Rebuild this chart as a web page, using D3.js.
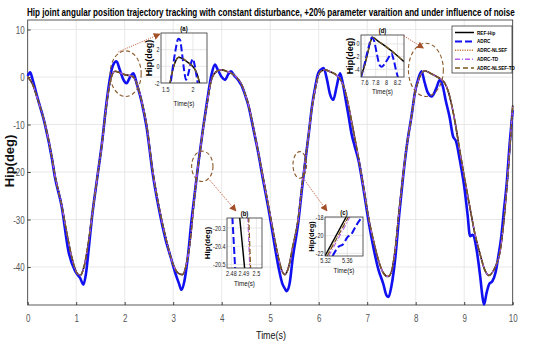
<!DOCTYPE html>
<html>
  <head>
    <meta charset="utf-8">
    <title>Hip joint trajectory tracking</title>
    <script src="https://d3js.org/d3.v7.min.js"></script>
    <style>
      body { margin: 0; background: #fff; }
      text { font-family: "Liberation Sans", Arial, sans-serif; }
      .grid line { stroke: #e2e2e2; stroke-width: 0.8; }
      .frame { fill: none; stroke: #333; stroke-width: 0.8; }
    </style>
  </head>
  <body>
    <script>
      // Hip angle (deg) against time (s)
      var hipTime = [0, 0.1, 0.2, 0.36, 0.5, 0.56, 0.7, 0.8, 0.91, 1,
        1.08, 1.16, 1.25, 1.32, 1.43, 1.53, 1.63, 1.7, 1.8, 1.9,
        2, 2.1, 2.18, 2.27, 2.35, 2.45, 2.58, 2.7, 2.85, 3,
        3.1, 3.19, 3.27, 3.35, 3.45, 3.53, 3.62, 3.7, 3.79, 3.9,
        4, 4.1, 4.2, 4.3, 4.41, 4.48, 4.55, 4.65, 4.75, 4.85,
        4.96, 5.07, 5.18, 5.25, 5.3, 5.38, 5.46, 5.58, 5.65, 5.72,
        5.8, 5.86, 5.93, 5.99, 6.06, 6.13, 6.24, 6.34, 6.47, 6.54,
        6.61, 6.7, 6.82, 6.93, 7.03, 7.13, 7.23, 7.33, 7.43, 7.5,
        7.58, 7.66, 7.74, 7.83, 7.92, 7.98, 8.05, 8.12, 8.19, 8.3,
        8.43, 8.52, 8.6, 8.67, 8.74, 8.82, 8.91, 9.01, 9.12, 9.22,
        9.33, 9.42, 9.51, 9.6, 9.68, 9.74, 9.8, 9.86, 9.91, 9.96,
        10];

      var refHip = [0, -1.5, -4.5, -10, -17, -20.6, -27, -32.5, -38, -41,
        -41.8, -40, -35, -29.7, -21.5, -14.2, -5.5, -1, 1.2, 0.9,
        0.5, 0.3, 0, -2, -5.1, -10, -20, -27, -34, -39.5,
        -41.3, -41.6, -39.5, -34.5, -24.1, -17.5, -10.7, -5.5, -0.5, 1.2,
        1.5, 1.2, 0.8, 0, -1.6, -3.5, -5.8, -10.5, -15.6, -21,
        -26.9, -33, -38.5, -41, -41.6, -40, -36, -29.7, -23.5, -17.8,
        -11.5, -6.5, -2.5, 0.3, 1.3, 1.5, 1.1, 0.6, -0.9, -2.8,
        -5.8, -10.5, -17, -23.5, -29.7, -34.5, -38.5, -41.2, -42, -41,
        -36, -28, -20.6, -13.5, -7.9, -3.5, -0.9, 0.8, 1.3, 0.8,
        0.1, -0.5, -1.3, -3, -5.8, -10, -15.6, -21.5, -27.6, -33,
        -37.4, -40.5, -41.8, -40.8, -39, -36.7, -32, -25.5, -19.2, -12,
        -6];

      // the three TD / NLSEF variants lie on the reference at full scale
      var nlsefHip = [0, -1.5, -4.5, -10, -17, -20.6, -27, -32.5, -38, -41,
        -41.8, -40, -35, -29.7, -21.5, -14.2, -5.5, -1, 1.2, 0.9,
        0.5, 0.3, 0, -2, -5.1, -10, -20, -27, -34, -39.5,
        -41.3, -41.6, -39.5, -34.5, -24.1, -17.5, -10.7, -5.5, -0.5, 1.2,
        1.5, 1.2, 0.8, 0, -1.6, -3.5, -5.8, -10.5, -15.6, -21,
        -26.9, -33, -38.5, -41, -41.6, -40, -36, -29.7, -23.5, -17.8,
        -11.5, -6.5, -2.5, 0.3, 1.3, 1.5, 1.1, 0.6, -0.9, -2.8,
        -5.8, -10.5, -17, -23.5, -29.7, -34.5, -38.5, -41.2, -42, -41,
        -36, -28, -20.6, -13.5, -7.9, -3.5, -0.9, 0.8, 1.3, 0.8,
        0.1, -0.5, -1.3, -3, -5.8, -10, -15.6, -21.5, -27.6, -33,
        -37.4, -40.5, -41.8, -40.8, -39, -36.7, -32, -25.5, -19.2, -12,
        -6];
      var tdHip = [0, -1.5, -4.5, -10, -17, -20.6, -27, -32.5, -38, -41,
        -41.8, -40, -35, -29.7, -21.5, -14.2, -5.5, -1, 1.2, 0.9,
        0.5, 0.3, 0, -2, -5.1, -10, -20, -27, -34, -39.5,
        -41.3, -41.6, -39.5, -34.5, -24.1, -17.5, -10.7, -5.5, -0.5, 1.2,
        1.5, 1.2, 0.8, 0, -1.6, -3.5, -5.8, -10.5, -15.6, -21,
        -26.9, -33, -38.5, -41, -41.6, -40, -36, -29.7, -23.5, -17.8,
        -11.5, -6.5, -2.5, 0.3, 1.3, 1.5, 1.1, 0.6, -0.9, -2.8,
        -5.8, -10.5, -17, -23.5, -29.7, -34.5, -38.5, -41.2, -42, -41,
        -36, -28, -20.6, -13.5, -7.9, -3.5, -0.9, 0.8, 1.3, 0.8,
        0.1, -0.5, -1.3, -3, -5.8, -10, -15.6, -21.5, -27.6, -33,
        -37.4, -40.5, -41.8, -40.8, -39, -36.7, -32, -25.5, -19.2, -12,
        -6];
      var nlsefTdHip = [0, -1.5, -4.5, -10, -17, -20.6, -27, -32.5, -38, -41,
        -41.8, -40, -35, -29.7, -21.5, -14.2, -5.5, -1, 1.2, 0.9,
        0.5, 0.3, 0, -2, -5.1, -10, -20, -27, -34, -39.5,
        -41.3, -41.6, -39.5, -34.5, -24.1, -17.5, -10.7, -5.5, -0.5, 1.2,
        1.5, 1.2, 0.8, 0, -1.6, -3.5, -5.8, -10.5, -15.6, -21,
        -26.9, -33, -38.5, -41, -41.6, -40, -36, -29.7, -23.5, -17.8,
        -11.5, -6.5, -2.5, 0.3, 1.3, 1.5, 1.1, 0.6, -0.9, -2.8,
        -5.8, -10.5, -17, -23.5, -29.7, -34.5, -38.5, -41.2, -42, -41,
        -36, -28, -20.6, -13.5, -7.9, -3.5, -0.9, 0.8, 1.3, 0.8,
        0.1, -0.5, -1.3, -3, -5.8, -10, -15.6, -21.5, -27.6, -33,
        -37.4, -40.5, -41.8, -40.8, -39, -36.7, -32, -25.5, -19.2, -12,
        -6];

      // plain ADRC is noisy, so it gets its own time samples
      var adrcHip = [[0,0.2],[0.05,1],[0.1,-0.5],[0.2,-4.3],[0.36,-10.2],[0.5,-17.2],[0.56,-21],[0.7,-27.2],[0.84,-36.7],[0.98,-40.9],
        [1.08,-42.3],[1.15,-43.7],[1.2,-41.5],[1.26,-36],[1.32,-30],[1.43,-21.5],[1.53,-14],[1.63,-5],[1.7,0],[1.76,2.5],
        [1.83,3.3],[1.9,1.5],[1.97,-0.5],[2.04,-1.3],[2.11,0],[2.18,0.8],[2.25,-1.5],[2.35,-5.3],[2.45,-10.5],[2.58,-20.5],
        [2.7,-27.5],[2.85,-34.5],[2.95,-38],[3.05,-41.5],[3.12,-43.5],[3.17,-44.8],[3.23,-43],[3.3,-38],[3.38,-30],[3.45,-24],
        [3.53,-17.3],[3.62,-10.5],[3.7,-5],[3.79,0.5],[3.86,2.6],[3.92,1.5],[4,0],[4.07,-0.6],[4.13,0.5],[4.19,1.2],
        [4.26,0.3],[4.35,-0.8],[4.41,-1.8],[4.48,-3.7],[4.55,-6],[4.65,-10.8],[4.75,-15.8],[4.85,-21.5],[4.96,-27.5],[5.02,-31],
        [5.1,-36],[5.18,-40.5],[5.25,-43.5],[5.3,-44.5],[5.34,-45.1],[5.4,-43.5],[5.46,-38.5],[5.58,-30.5],[5.65,-24],[5.72,-18],
        [5.8,-11.5],[5.86,-6.3],[5.93,-2],[5.99,0.8],[6.05,1.6],[6.1,1.9],[6.17,-0.5],[6.23,-3.5],[6.3,-4.8],[6.37,-2],
        [6.44,0.8],[6.5,-1.5],[6.56,-5],[6.62,-8.5],[6.68,-12.1],[6.74,-14.5],[6.82,-17.5],[6.93,-24],[7.03,-30.5],[7.13,-36],
        [7.23,-40.5],[7.33,-43.5],[7.4,-46],[7.44,-46.3],[7.5,-44],[7.58,-38],[7.66,-29],[7.74,-21],[7.83,-13.5],[7.92,-7.8],
        [7.98,-3.5],[8.05,-0.5],[8.12,1.2],[8.18,-1],[8.25,-3.3],[8.33,-4.1],[8.42,-2.5],[8.5,-0.6],[8.56,-2],[8.62,-5],
        [8.7,-8.5],[8.77,-12.5],[8.83,-13.5],[8.91,-17.5],[9,-23],[9.07,-29],[9.12,-33.5],[9.18,-33.2],[9.25,-36],[9.33,-42],
        [9.38,-46.5],[9.41,-47.9],[9.46,-45.5],[9.52,-43.5],[9.58,-43],[9.65,-41],[9.7,-38],[9.76,-34],[9.82,-28],[9.88,-22],
        [9.93,-15],[10,-7]];

      var timeTicks = [0, 1, 2, 3, 4, 5, 6, 7, 8, 9, 10];
      var hipTicks = [-40, -30, -20, -10, 0, 10];
      var seriesNames = ["REF-Hip", "ADRC", "ADRC-NLSEF", "ADRC-TD", "ADRC-NLSEF-TD"];

      // zoomed regions (a)-(d): centre and half size of each ellipse, in data units
      var zoomLabels = ["(a)", "(b)", "(c)", "(d)"];
      var zoomCentreTime = [2.02, 3.60, 5.61, 8.21];
      var zoomCentreHip = [0.7, -18.8, -18.5, 1.5];
      var zoomHalfTime = [0.32, 0.22, 0.14, 0.36];
      var zoomHalfHip = [4.8, 3.2, 2.8, 5.6];

      // inset axes
      var insetTimeRange = [[1.41, 2.26], [2.4765, 2.5045], [5.319, 5.389], [7.53, 8.32]];
      var insetHipRange = [[-2, 4], [-20.52, -20.245], [-22.3, -17.9], [-5.2, 1.4]];
      var insetTimeTicks = [[1.5, 2], [2.48, 2.49, 2.5], [5.32, 5.36], [7.6, 7.8, 8, 8.2]];
      var insetHipTicks = [[-2, 0, 2], [-20.5, -20.4, -20.3], [-22, -20, -18], [-4, -2, 0]];

      // inset curves, [time, hip]
      var insetARef = [[1.55,-3],[1.6,-1.2],[1.66,0.3],[1.74,1.1],[1.82,0.9],[1.9,0.5],[1.98,0.1],[2.04,-0.4],[2.09,-1.2],[2.14,-2.5]];
      var insetAAdrc = [[1.57,-3],[1.62,-0.5],[1.68,2],[1.73,3.3],[1.76,3.2],[1.8,1.5],[1.84,-0.6],[1.87,-1.6],[1.91,-1],[1.96,0.3],[2,0.9],[2.03,0.2],[2.07,-1.3],[2.1,-2.5]];
      var insetBRef = [[2.4866,-20.24],[2.4906,-20.52]];
      var insetBAdrc = [[2.4808,-20.24],[2.483,-20.52]];
      var insetBNlsef = [[2.4936,-20.24],[2.4951,-20.52]];
      var insetBTd = [[2.4931,-20.24],[2.4947,-20.52]];
      var insetBNlsefTd = [[2.4939,-20.24],[2.4954,-20.52]];
      var insetCRef = [[5.319,-22.3],[5.358,-17.9]];
      var insetCNlsef = [[5.3225,-22.3],[5.3615,-17.9]];
      var insetCTd = [[5.326,-22.3],[5.365,-17.9]];
      var insetCNlsefTd = [[5.323,-22.3],[5.362,-17.9]];
      var insetCAdrc = [[5.333,-22.3],[5.345,-21.2],[5.352,-21],[5.36,-20.2],[5.368,-19.8],[5.376,-18.9],[5.386,-18]];
      var insetDRef = [[7.53,-5],[7.6,-3.3],[7.66,-1.2],[7.7,0.2],[7.74,1.05],[7.85,0.4],[8,-0.5],[8.15,-1.5],[8.32,-2.8]];
      var insetDAdrc = [[7.53,-5.3],[7.6,-3],[7.67,-0.5],[7.73,1],[7.77,0.5],[7.82,-1.5],[7.87,-3.3],[7.91,-3.6],[7.96,-3.2],[8.02,-2.4],[8.09,-1.5],[8.13,-2.5],[8.17,-4],[8.21,-5.3]];

      // style per series, in legend order
      var seriesColor = ["#000000", "#1010f0", "#c8783c", "#b25ef0", "#7a5a1e"];
      var seriesDash = ["none", "7,3", "1.2,1.2", "5,2,1,2", "5,3"];
      var seriesWidth = [1.6, 2.6, 1.2, 1.2, 1.3];

      var svgWidth = 550;
      var svgHeight = 346;
      var plotLeft = 27.7;
      var plotRight = 512.7;
      var plotTop = 20;
      var plotBottom = 305;
      var narrow = 0.8;   // the figure uses a condensed face

      // pixel boxes of the four insets; labelGap is where the rotated "Hip(deg)" sits
      var insetBoxes = [
        {x: 161, y: 33, w: 46, h: 50, tickGap: 9, titleGap: 23, labelSize: 9, labelGap: 9},
        {x: 227, y: 218, w: 35, h: 50, tickGap: 8, titleGap: 18, labelSize: 8, labelGap: 17},
        {x: 325, y: 217, w: 38, h: 39, tickGap: 7, titleGap: 17, labelSize: 7.5, labelGap: 11.5},
        {x: 361, y: 35, w: 43, h: 42, tickGap: 8, titleGap: 17, labelSize: 9, labelGap: 8.5}
      ];
      var arrowFrom = [[1.87, 5.3], [3.72, -21.3], [5.68, -21.3], null];
      var arrowTo = [[160, 34], [236, 211], [327, 211], [8.16, 6.1]];

      var svg = d3.select("body")
                  .append("svg")
                  .attr("width", svgWidth)
                  .attr("height", svgHeight);

      var xScale = d3.scaleLinear().domain([0, 10]).range([plotLeft, plotRight]);
      var yScale = d3.scaleLinear().domain([-48, 12]).range([plotBottom, plotTop]);

      var defs = svg.append("defs");
      defs.append("marker")
          .attr("id", "head")
          .attr("viewBox", "0 0 10 10")
          .attr("refX", 9).attr("refY", 5)
          .attr("markerWidth", 7).attr("markerHeight", 7)
          .attr("markerUnits", "userSpaceOnUse")
          .attr("orient", "auto")
        .append("path")
          .attr("d", "M0,0 L10,5 L0,10 Z")
          .attr("fill", "#a4502a");

      drawAxes();
      drawMainLines();
      drawZoomMarks();
      drawInsets();
      drawLegend();

      // squeeze a text horizontally around its own anchor point
      function condense(sel, factor) {
        sel.each(function() {
          var t = d3.select(this);
          var x = +t.attr("x") || 0;
          var y = +t.attr("y") || 0;
          t.attr("transform", "translate(" + x + "," + y + ") scale(" + factor + ",1)")
           .attr("x", 0).attr("y", 0);
        });
        return sel;
      }

      function drawAxes() {
        // grid
        svg.append("g").attr("class", "grid")
           .selectAll("line").data(timeTicks).join("line")
           .attr("x1", d => xScale(d)).attr("x2", d => xScale(d))
           .attr("y1", plotTop).attr("y2", plotBottom);
        svg.append("g").attr("class", "grid")
           .selectAll("line").data(hipTicks).join("line")
           .attr("x1", plotLeft).attr("x2", plotRight)
           .attr("y1", d => yScale(d)).attr("y2", d => yScale(d));

        var xAxis = d3.axisBottom(xScale).tickValues(timeTicks).tickSize(-3).tickPadding(8);
        var xg = svg.append("g")
           .attr("transform", "translate(0," + plotBottom + ")")
           .call(xAxis)
           .call(g => g.select(".domain").remove())
           .call(g => g.selectAll("line").attr("stroke", "#444"))
           .call(g => g.selectAll("text").attr("font-size", "10px").attr("fill", "#555")
                       .attr("dy", null).attr("y", 16.5));
        condense(xg.selectAll("text"), narrow);

        var yAxis = d3.axisLeft(yScale).tickValues(hipTicks).tickSize(-3).tickPadding(3)
                      .tickFormat(d => String(d));
        var yg = svg.append("g")
           .attr("transform", "translate(" + plotLeft + ",0)")
           .call(yAxis)
           .call(g => g.select(".domain").remove())
           .call(g => g.selectAll("line").attr("stroke", "#444"))
           .call(g => g.selectAll("text").attr("font-size", "10px").attr("fill", "#555")
                       .attr("dy", null).attr("x", -3).attr("y", 3.5));
        condense(yg.selectAll("text"), narrow);

        svg.append("rect").attr("class", "frame")
           .attr("x", plotLeft).attr("y", plotTop)
           .attr("width", plotRight - plotLeft).attr("height", plotBottom - plotTop);

        condense(svg.append("text")
           .attr("x", 271).attr("y", 339)
           .attr("text-anchor", "middle")
           .attr("font-size", "11.5px").attr("fill", "#111")
           .text("Time(s)"), 0.78);

        svg.append("text")
           .attr("transform", "rotate(-90)")
           .attr("x", -161).attr("y", 14)
           .attr("text-anchor", "middle")
           .attr("font-size", "13px").attr("font-weight", "bold")
           .attr("fill", "#111")
           .text("Hip(deg)");

        // title, squeezed to the width it has in the figure
        var title = svg.append("text")
           .attr("x", 27).attr("y", 15.5)
           .attr("font-size", "11.5px").attr("font-weight", "bold")
           .text("Hip joint angular position trajectory tracking with constant disturbance, +20% parameter varaition and under influence of noise");
        condense(title, 488 / title.node().getComputedTextLength());
      }

      function styleLine(path, i) {
        return path.attr("fill", "none")
                   .attr("stroke", seriesColor[i])
                   .attr("stroke-width", seriesWidth[i])
                   .attr("stroke-dasharray", seriesDash[i])
                   .attr("stroke-linejoin", "round");
      }

      function drawMainLines() {
        var line = d3.line()
                     .x(d => xScale(d[0]))
                     .y(d => yScale(d[1]))
                     .curve(d3.curveMonotoneX);
        var byTime = function(values) {
          return hipTime.map((t, k) => [t, values[k]]);
        };
        var all = [byTime(refHip), adrcHip, byTime(nlsefHip), byTime(tdHip), byTime(nlsefTdHip)];
        var mainDash = ["none", "none", "1.2,1.2", "5,2,1,2", "5,3"];
        all.forEach(function(points, i) {
          styleLine(svg.append("path").datum(points).attr("d", line), i)
             .attr("stroke-dasharray", mainDash[i]);
        });
      }

      function drawZoomMarks() {
        zoomLabels.forEach(function(label, i) {
          svg.append("ellipse")
             .attr("cx", xScale(zoomCentreTime[i]))
             .attr("cy", yScale(zoomCentreHip[i]))
             .attr("rx", xScale(zoomHalfTime[i]) - xScale(0))
             .attr("ry", yScale(0) - yScale(zoomHalfHip[i]))
             .attr("fill", "none")
             .attr("stroke", "#8b5a2b")
             .attr("stroke-width", 1.1)
             .attr("stroke-dasharray", "4,2.5");
        });
      }

      function drawInsets() {
        var insetSeries = [
          [insetARef, insetAAdrc, null, null, insetARef],
          [insetBRef, insetBAdrc, insetBNlsef, insetBTd, insetBNlsefTd],
          [insetCRef, insetCAdrc, insetCNlsef, insetCTd, insetCNlsefTd],
          [insetDRef, insetDAdrc, null, null, insetDRef]
        ];

        insetBoxes.forEach(function(box, i) {
          var ix = d3.scaleLinear().domain(insetTimeRange[i]).range([box.x, box.x + box.w]);
          var iy = d3.scaleLinear().domain(insetHipRange[i]).range([box.y + box.h, box.y]);
          var g = svg.append("g");

          g.append("rect")
           .attr("x", box.x).attr("y", box.y).attr("width", box.w).attr("height", box.h)
           .attr("fill", "#fff");

          g.append("g").attr("class", "grid").selectAll("line")
           .data(insetTimeTicks[i]).join("line")
           .attr("x1", d => ix(d)).attr("x2", d => ix(d))
           .attr("y1", box.y).attr("y2", box.y + box.h);
          g.append("g").attr("class", "grid").selectAll("line")
           .data(insetHipTicks[i]).join("line")
           .attr("x1", box.x).attr("x2", box.x + box.w)
           .attr("y1", d => iy(d)).attr("y2", d => iy(d));

          defs.append("clipPath").attr("id", "clip" + i)
              .append("rect")
              .attr("x", box.x).attr("y", box.y).attr("width", box.w).attr("height", box.h);

          var line = d3.line().x(d => ix(d[0])).y(d => iy(d[1])).curve(d3.curveMonotoneX);
          var lines = g.append("g").attr("clip-path", "url(#clip" + i + ")");
          insetSeries[i].forEach(function(points, s) {
            if (!points) return;
            styleLine(lines.append("path").datum(points).attr("d", line), s)
               .attr("stroke-width", s == 1 ? 2 : seriesWidth[s] * 0.9);
          });

          g.append("rect").attr("class", "frame")
           .attr("x", box.x).attr("y", box.y).attr("width", box.w).attr("height", box.h)
           .attr("stroke", "#222");

          condense(g.selectAll(".xt").data(insetTimeTicks[i]).join("text")
           .attr("x", d => ix(d)).attr("y", box.y + box.h + box.tickGap)
           .attr("text-anchor", "middle").attr("font-size", "7px").attr("fill", "#222")
           .text(d => d), 0.78);
          condense(g.selectAll(".yt").data(insetHipTicks[i]).join("text")
           .attr("x", box.x - 1.5).attr("y", d => iy(d) + 2.5)
           .attr("text-anchor", "end").attr("font-size", "7px").attr("fill", "#222")
           .text(d => d), 0.78);

          condense(g.append("text")
           .attr("x", box.x + box.w / 2).attr("y", box.y + box.h + box.titleGap)
           .attr("text-anchor", "middle").attr("font-size", "8px").attr("fill", "#111")
           .text("Time(s)"), 0.78);
          g.append("text")
           .attr("transform", "rotate(-90)")
           .attr("x", -(box.y + box.h / 2)).attr("y", box.x - box.labelGap)
           .attr("text-anchor", "middle").attr("font-size", box.labelSize + "px").attr("font-weight", "bold")
           .text("Hip(deg)");
          condense(g.append("text")
           .attr("x", box.x + box.w / 2).attr("y", box.y - 2)
           .attr("text-anchor", "middle").attr("font-size", "7.5px").attr("font-weight", "bold")
           .text(zoomLabels[i]), narrow);
        });

        // dotted arrows from each ellipse to its inset (and from (d) to its ellipse)
        zoomLabels.forEach(function(label, i) {
          var start, end;
          if (arrowFrom[i]) {
            start = [xScale(arrowFrom[i][0]), yScale(arrowFrom[i][1])];
            end = arrowTo[i];
          } else {
            start = [insetBoxes[i].x + insetBoxes[i].w, insetBoxes[i].y + 1];
            end = [xScale(arrowTo[i][0]), yScale(arrowTo[i][1])];
          }
          svg.append("line")
             .attr("x1", start[0]).attr("y1", start[1])
             .attr("x2", end[0]).attr("y2", end[1])
             .attr("stroke", "#c0502a")
             .attr("stroke-width", 1)
             .attr("stroke-dasharray", "1,1.3")
             .attr("marker-end", "url(#head)");
        });
      }

      function drawLegend() {
        var lx = 452, ly = 26, lw = 60, lh = 47, step = 8.9;
        svg.append("rect")
           .attr("x", lx).attr("y", ly).attr("width", lw).attr("height", lh)
           .attr("fill", "#fff").attr("stroke", "#222").attr("stroke-width", 0.7);
        var rows = svg.selectAll(".leg").data(seriesNames).join("g")
                      .attr("transform", (d, i) => "translate(" + lx + "," + (ly + 6.5 + i * step) + ")");
        rows.append("line")
            .attr("x1", 3).attr("x2", 22)
            .each(function(d, i) { styleLine(d3.select(this), i).attr("stroke-width", i == 1 ? 2 : 1.5); });
        condense(rows.append("text")
            .attr("x", 25).attr("y", 2)
            .attr("font-size", "5.8px").attr("font-weight", "bold")
            .text(d => d), narrow);
      }
    </script>
  </body>
</html>
